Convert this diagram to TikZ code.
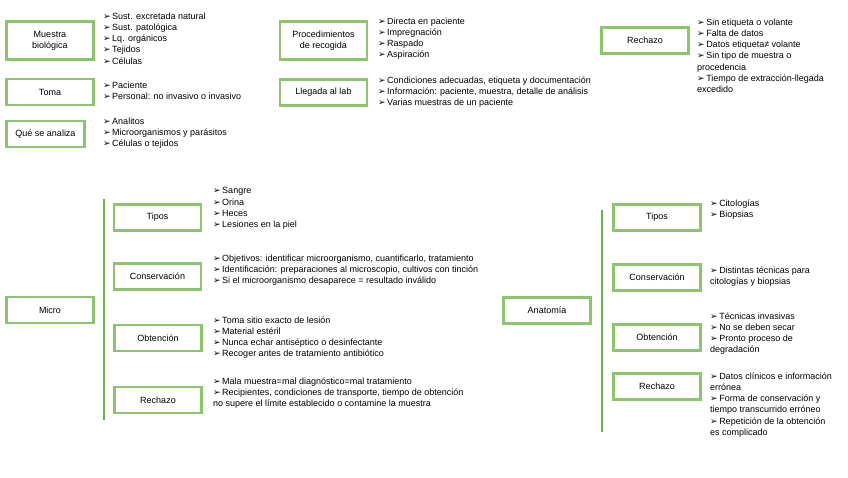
\documentclass[tikz,border=0pt]{standalone}
\usepackage{fontspec}
\setmainfont{Liberation Sans}
\newfontfamily\dejavu{DejaVu Sans}
\newcommand{\bl}{{\dejavu\char"27A2}\,}
\definecolor{boxgreen}{HTML}{8CC56E}
\definecolor{linegreen}{HTML}{6BB04A}
\begin{document}
\begin{tikzpicture}[x=1pt,y=-1pt,
  gbox/.style={draw=boxgreen,line width=2.6pt,minimum width=87pt,minimum height=26pt,align=center,inner sep=1pt,font=\fontsize{9}{11.2}\selectfont},
  tall/.style={minimum height=38pt},
  txt/.style={anchor=north west,align=left,inner sep=0pt,font=\fontsize{9}{11.2}\selectfont,execute at begin node=\strut},
  vline/.style={draw=linegreen,line width=2pt}]
\useasboundingbox (0,0) rectangle (848,477);
% top row boxes
\node[gbox,tall] (mb) at (50,40.5) {Muestra\\biológica};
\node[gbox] (toma) at (50,92) {Toma};
\node[gbox,minimum width=78pt] (que) at (45.5,134) {Qué se analiza};
\node[gbox,tall] (proc) at (323.5,40.5) {Procedimientos\\de recogida};
\node[gbox] (lleg) at (323.5,92.5) {Llegada al lab};
\node[gbox] (rech) at (645,40.5) {Rechazo};
% top row texts
\node[txt] (tmb) at (103,12.5) {\bl Sust. excretada natural\\\bl Sust. patológica\\\bl Lq. orgánicos\\\bl Tejidos\\\bl Células};
\node[txt] (ttoma) at (103,81.5) {\bl Paciente\\\bl Personal: no invasivo o invasivo};
\node[txt] (tque) at (103,117.5) {\bl Analitos\\\bl Microorganismos y parásitos\\\bl Células o tejidos};
\node[txt] (tproc) at (378,17.5) {\bl Directa en paciente\\\bl Impregnación\\\bl Raspado\\\bl Aspiración};
\node[txt] (tlleg) at (378,76.5) {\bl Condiciones adecuadas, etiqueta y documentación\\\bl Información: paciente, muestra, detalle de análisis\\\bl Varias muestras de un paciente};
\node[txt] (trech) at (697,18.5) {\bl Sin etiqueta o volante\\\bl Falta de datos\\\bl Datos etiqueta≠ volante\\\bl Sin tipo de muestra o\\procedencia\\\bl Tiempo de extracción-llegada\\excedido};
% Micro
\node[gbox] (micro) at (50,310) {Micro};
\coordinate (mtop) at (103.5,199);
\coordinate (mbot) at (103.5,420);
\draw[vline] (mtop) -- (mbot);
\node[gbox] (mtipos) at (157.5,217.5) {Tipos};
\node[gbox] (mcons) at (157.5,276.5) {Conservación};
\node[gbox] (mobt) at (158,338) {Obtención};
\node[gbox] (mrech) at (158,400) {Rechazo};
\node[txt] (tmtipos) at (213,187.5) {\bl Sangre\\\bl Orina\\\bl Heces\\\bl Lesiones en la piel};
\node[txt] (tmcons) at (213,254.5) {\bl Objetivos: identificar microorganismo, cuantificarlo, tratamiento\\\bl Identificación: preparaciones al microscopio, cultivos con tinción\\\bl Si el microorganismo desaparece = resultado inválido};
\node[txt] (tmobt) at (213,316.5) {\bl Toma sitio exacto de lesión\\\bl Material estéril\\\bl Nunca echar antiséptico o desinfectante\\\bl Recoger antes de tratamiento antibiótico};
\node[txt] (tmrech) at (213,377.5) {\bl Mala muestra=mal diagnóstico=mal tratamiento\\\bl Recipientes, condiciones de transporte, tiempo de obtención\\no supere el límite establecido o contamine la muestra};
% Anatomia
\node[gbox] (anat) at (547,310.5) {Anatomía};
\coordinate (atop) at (602,210);
\coordinate (abot) at (602,432);
\draw[vline] (atop) -- (abot);
\node[gbox] (atipos) at (657,217.5) {Tipos};
\node[gbox] (acons) at (657,277.5) {Conservación};
\node[gbox] (aobt) at (657,337.5) {Obtención};
\node[gbox] (arech) at (657,386.5) {Rechazo};
\node[txt] (tatipos) at (710,199.5) {\bl Citologías\\\bl Biopsias};
\node[txt] (tacons) at (710,266.5) {\bl Distintas técnicas para\\citologías y biopsias};
\node[txt] (taobt) at (710,312.5) {\bl Técnicas invasivas\\\bl No se deben secar\\\bl Pronto proceso de\\degradación};
\node[txt] (tarech) at (710,372.5) {\bl Datos clínicos e información\\errónea\\\bl Forma de conservación y\\tiempo transcurrido erróneo\\\bl Repetición de la obtención\\es complicado};
\end{tikzpicture}
\end{document}
